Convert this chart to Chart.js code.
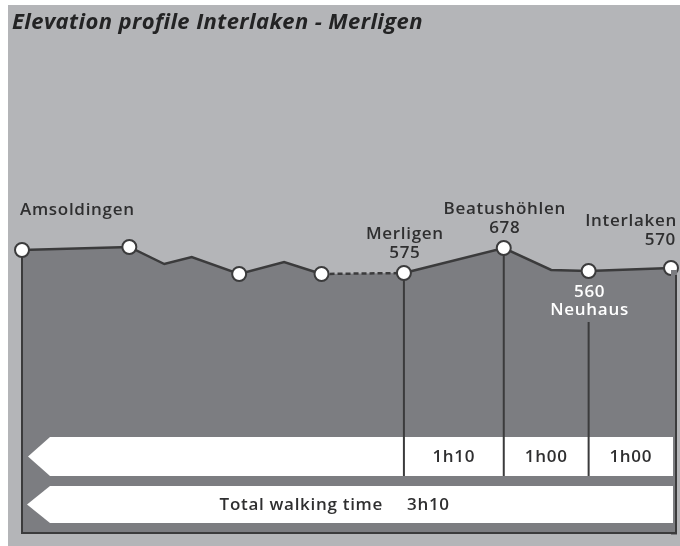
<!DOCTYPE html>
<html>
<head>
<meta charset="utf-8">
<script src="https://cdn.jsdelivr.net/npm/chart.js@4.4.1/dist/chart.umd.min.js"></script>
<style>
  html, body { margin: 0; padding: 0; background: #fff; }
  #wrap { width: 680px; height: 546px; }
</style>
</head>
<body>
<div id="wrap"><canvas id="profileChart"></canvas></div>
<script>
// profile: distance along route (km) and schematic height of the line
const distances = [0, 4.3, 5.7, 6.8, 8.7, 10.5, 12.0, 15.3, 19.3, 21.2, 22.7, 26.0];
const profileHeights = [283, 286, 269, 276, 259, 271, 259, 260, 285, 263, 262, 265];
const isStop = [true, true, false, false, true, false, true, true, true, false, true, true];
const placeNames = ['Amsoldingen', '', '', '', '', '', '', 'Merligen', 'Beatushöhlen', '', 'Neuhaus', 'Interlaken'];
const elevations = ['', '', '', '', '', '', '', '575', '678', '', '560', '570'];
const dashedSegment = 6;
const legStops = [7, 8, 10, 11];
const legTimes = ['1h10', '1h00', '1h00'];
const totalLabel = 'Total walking time';
const totalTime = '3h10';
const titleText = 'Elevation profile Interlaken - Merligen';

const LINE = '#3b3b3c';
const FILL = '#7c7d81';
const BG = '#b4b5b8';
const TEXT = '#2f2f30';
const LABEL_FONT = '600 17px "Open Sans"';
const LABEL_SPACING = '0.7px';

function arrowBox(ctx, tipX, cornerX, right, top, bottom) {
    ctx.beginPath();
    ctx.moveTo(tipX, (top + bottom) / 2);
    ctx.lineTo(cornerX, top);
    ctx.lineTo(right, top);
    ctx.lineTo(right, bottom);
    ctx.lineTo(cornerX, bottom);
    ctx.closePath();
    ctx.fill();
}

function vline(ctx, x, y1, y2) {
    ctx.beginPath();
    ctx.moveTo(x, y1);
    ctx.lineTo(x, y2);
    ctx.stroke();
}

const profileDecor = {
    id: 'profileDecor',
    beforeDraw(chart) {
        const { ctx, width, height } = chart;
        ctx.save();
        ctx.fillStyle = BG;
        ctx.fillRect(8, 5, width - 8, height - 5);
        ctx.restore();
    },
    afterDatasetsDraw(chart) {
        const { ctx, chartArea } = chart;
        const xs = chart.scales.x, ys = chart.scales.y;
        const px = i => xs.getPixelForValue(distances[i]);
        const py = i => ys.getPixelForValue(profileHeights[i]);
        const last = distances.length - 1;
        const bottom = chartArea.bottom;
        const r = 7;

        ctx.save();
        // fill strip past the last point up to the frame
        ctx.fillStyle = FILL;
        ctx.fillRect(chartArea.right, py(last) + 2, 6, bottom - py(last));

        // frame
        ctx.strokeStyle = LINE;
        ctx.lineWidth = 2;
        vline(ctx, px(0), py(0) + r, bottom);
        vline(ctx, chartArea.right + 5, py(last) + r, bottom);
        ctx.beginPath();
        ctx.moveTo(px(0) - 1, bottom);
        ctx.lineTo(chartArea.right + 6, bottom);
        ctx.stroke();

        // walking time arrows
        const boxRight = chartArea.right + 2;
        ctx.fillStyle = '#ffffff';
        arrowBox(ctx, 28, 50, boxRight, 437, 476);
        arrowBox(ctx, 27, 50, boxRight, 486, 523);

        // leg dividers
        ctx.strokeStyle = LINE;
        ctx.lineWidth = 2;
        legStops.slice(0, 3).forEach(i => {
            const top = placeNames[i] === 'Neuhaus' ? 322 : py(i) + r;
            vline(ctx, px(i), top, 476);
        });

        ctx.fillStyle = TEXT;
        ctx.font = LABEL_FONT;
        ctx.letterSpacing = LABEL_SPACING;
        ctx.textBaseline = 'middle';
        ctx.textAlign = 'center';
        legTimes.forEach((t, k) => {
            const a = px(legStops[k]);
            const b = k === legTimes.length - 1 ? boxRight : px(legStops[k + 1]);
            ctx.fillText(t, (a + b) / 2, 457);
        });
        ctx.textAlign = 'right';
        ctx.fillText(totalLabel, 383, 505);
        ctx.textAlign = 'left';
        ctx.fillText(totalTime, 407, 505);
        ctx.restore();
    },
    afterDraw(chart) {
        const { ctx } = chart;
        const xs = chart.scales.x, ys = chart.scales.y;
        const px = i => xs.getPixelForValue(distances[i]);
        const py = i => ys.getPixelForValue(profileHeights[i]);
        ctx.save();
        ctx.textBaseline = 'middle';
        ctx.fillStyle = '#232324';
        ctx.font = 'italic 700 22px "Open Sans"';
        ctx.letterSpacing = '0.4px';
        ctx.textAlign = 'left';
        ctx.fillText(titleText, 12, 23);

        ctx.font = LABEL_FONT;
        ctx.letterSpacing = LABEL_SPACING;
        placeNames.forEach((name, i) => {
            if (!name) return;
            const x = px(i), y = py(i);
            ctx.fillStyle = TEXT;
            if (name === 'Amsoldingen') {
                ctx.textAlign = 'left';
                ctx.fillText(name, x - 2, y - 40);
            } else if (name === 'Interlaken') {
                ctx.textAlign = 'right';
                ctx.fillText(name, x + 6, y - 47);
                ctx.fillText(elevations[i], x + 5, y - 28);
            } else if (name === 'Neuhaus') {
                ctx.textAlign = 'center';
                ctx.fillStyle = '#ffffff';
                ctx.fillText(elevations[i], x + 1, y + 21);
                ctx.fillText(name, x + 1, y + 39);
            } else {
                ctx.textAlign = 'center';
                ctx.fillText(name, x + 1, y - 39);
                ctx.fillText(elevations[i], x + 1, y - 20);
            }
        });
        ctx.restore();
    }
};

const points = distances.map((d, i) => ({ x: d, y: profileHeights[i] }));

const canvas = document.getElementById('profileChart');
new Chart(canvas, {
    type: 'line',
    data: {
        datasets: [
            {
                // route line with stops
                data: points,
                borderColor: LINE,
                borderWidth: 2.5,
                fill: false,
                tension: 0,
                clip: false,
                pointRadius: isStop.map(s => (s ? 7 : 0)),
                pointBackgroundColor: '#ffffff',
                pointBorderColor: LINE,
                pointBorderWidth: 2,
                segment: {
                    borderDash: c => (c.p0DataIndex === dashedSegment ? [5, 3] : undefined)
                }
            },
            {
                // terrain fill under the route
                data: points,
                borderWidth: 0,
                borderColor: 'rgba(0,0,0,0)',
                backgroundColor: FILL,
                fill: 'start',
                tension: 0,
                pointRadius: 0
            }
        ]
    },
    options: {
        responsive: true,
        maintainAspectRatio: false,
        animation: false,
        events: [],
        layout: { padding: { left: 22, right: 7, top: 50, bottom: 13 } },
        plugins: { legend: { display: false }, tooltip: { enabled: false } },
        scales: {
            x: { type: 'linear', min: 0, max: 26, display: false },
            y: { min: 0, max: 483, display: false }
        }
    },
    plugins: [profileDecor]
});
</script>
</body>
</html>
